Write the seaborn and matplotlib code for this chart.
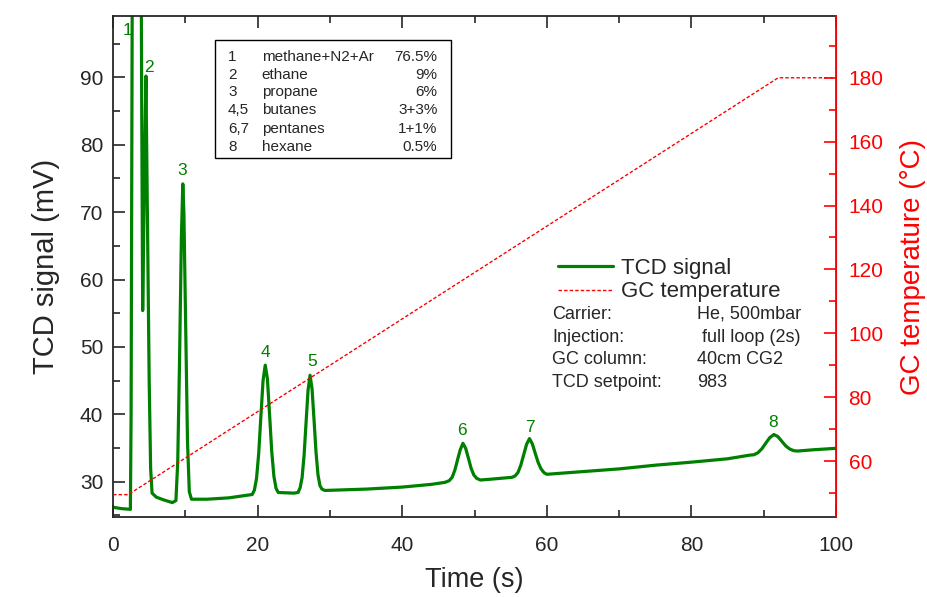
import matplotlib
matplotlib.use('Agg')
import matplotlib.pyplot as plt
import matplotlib.patches as patches
from matplotlib.ticker import MultipleLocator
import seaborn as sns

sns.set_style('ticks')
plt.rcParams['font.family'] = ['Liberation Sans', 'DejaVu Sans']

# TCD signal (time in s, signal in mV)
time_s = [0, 1.2, 2.4, 2.5, 2.6, 2.7, 3.85, 3.95, 4.1, 4.3, 4.55, 4.75, 5.0, 5.2, 5.4,
          6.0, 7.0, 8.2, 8.7, 8.95, 9.2, 9.45, 9.65, 9.8, 10.05, 10.3, 10.55, 10.85,
          13, 16, 19.25, 19.55, 19.85, 20.15, 20.45, 20.75, 21.05, 21.35, 21.65, 21.95,
          22.25, 22.55, 22.85, 25.0, 25.6, 25.875, 26.15, 26.425, 26.7, 26.975, 27.25,
          27.525, 27.8, 28.075, 28.35, 28.625, 28.9, 29.3, 35, 40, 44, 45.9, 46.5, 46.9,
          47.275, 47.65, 48.025, 48.4, 48.775, 49.15, 49.525, 49.9, 50.3, 50.8, 52, 55.2,
          55.6, 56.0, 56.4, 56.8, 57.2, 57.6, 58.0, 58.4, 58.8, 59.2, 59.6, 60.0, 65, 70,
          75, 80, 85, 88.1, 88.65, 89.2, 89.75, 90.3, 90.85, 91.4, 91.95, 92.5, 93.05,
          93.6, 94.15, 94.7, 97, 100]
tcd_mv = [26.2, 26.0, 25.9, 40, 80, 120, 120, 90, 55.4, 72, 90.2, 70, 45, 32, 28.3,
          27.7, 27.3, 26.9, 27.2, 33, 48, 66, 74.2, 70, 53, 36, 28.5, 27.4,
          27.4, 27.6, 28.1, 28.75, 30.5, 34.2, 39.7, 45.0, 47.3, 45.3, 40.0, 34.5,
          30.8, 29.0, 28.4, 28.3, 28.4, 29.1, 30.6, 33.9, 38.8, 43.6, 45.8,
          43.8, 39.2, 34.4, 31.0, 29.4, 28.9, 28.7, 28.9, 29.2, 29.6, 29.9, 30.15, 30.65,
          31.7, 33.25, 34.75, 35.7, 34.95, 33.5, 32.0, 31.0, 30.5, 30.25, 30.35, 30.65,
          30.85, 31.35, 32.45, 34.0, 35.55, 36.4, 35.6, 34.2, 32.85, 31.9, 31.35, 31.1, 31.5, 31.9,
          32.45, 32.9, 33.4, 33.95, 34.0, 34.3, 34.9, 35.75, 36.55, 37.0, 36.7, 36.0, 35.3,
          34.85, 34.6, 34.55, 34.75, 34.95]

# GC oven temperature program
temp_time = [0, 2.1, 92, 100]
temp_c = [49.5, 49.5, 180, 180]

peak_ids = ['1', '2', '3', '4', '5', '6', '7', '8']
label_x = [2.0, 4.9, 9.6, 21.1, 27.5, 48.3, 57.7, 91.3]
label_y = [96.9, 91.4, 76.2, 49.2, 47.9, 37.6, 38.1, 38.8]

comp_no = ['1', '2', '3', '4,5', '6,7', '8']
comp_name = ['methane+N2+Ar', 'ethane', 'propane', 'butanes', 'pentanes', 'hexane']
comp_pct = ['76.5%', '9%', '6%', '3+3%', '1+1%', '0.5%']

info_keys = ['Carrier:', 'Injection:', 'GC column:', 'TCD setpoint:']
info_vals = ['He, 500mbar', ' full loop (2s)', '40cm CG2', '983']

green = '#008000'
red = '#ff0000'

fig, ax = plt.subplots(figsize=(9.28, 5.97), dpi=100)
fig.subplots_adjust(left=0.1218, right=0.9009, bottom=0.134, top=0.973)
ax2 = ax.twinx()

sns.lineplot(x=time_s, y=tcd_mv, ax=ax, color=green, lw=2.3, sort=False,
             estimator=None, label='TCD signal', legend=False)
sns.lineplot(x=temp_time, y=temp_c, ax=ax2, color=red, lw=1.0, ls=(0, (2.5, 1.5)),
             sort=False, estimator=None, label='GC temperature', legend=False)

ax.set_xlim(0, 100)
ax.set_ylim(24.76, 99.1)
ax2.set_ylim(42.5, 199.3)

ax.xaxis.set_major_locator(MultipleLocator(20))
ax.xaxis.set_minor_locator(MultipleLocator(10))
ax.yaxis.set_major_locator(MultipleLocator(10))
ax.yaxis.set_minor_locator(MultipleLocator(5))
ax2.yaxis.set_major_locator(MultipleLocator(20))
ax2.yaxis.set_minor_locator(MultipleLocator(10))

ax.tick_params(which='both', direction='in', top=True, right=False, width=1.2, labelsize=15)
ax.tick_params(which='major', length=8.5)
ax.tick_params(which='minor', length=5)
ax.tick_params(axis='x', pad=14)
ax.tick_params(axis='y', pad=7)
ax2.tick_params(which='both', direction='in', colors=red, width=1.2, labelsize=15, pad=9)
ax2.tick_params(which='major', length=8.5)
ax2.tick_params(which='minor', length=5)

for s in ['left', 'bottom', 'top']:
    ax.spines[s].set_linewidth(1.3)
ax2.spines['right'].set_color(red)
ax2.spines['right'].set_linewidth(1.3)
for s in ['left', 'bottom', 'top']:
    ax2.spines[s].set_visible(False)

ax.set_xlabel('Time (s)', fontsize=19.5, labelpad=8)
ax.set_ylabel('TCD signal (mV)', fontsize=21, labelpad=14)
ax2.set_ylabel('GC temperature (°C)', fontsize=20, color=red, labelpad=12)

# peak numbers
for pid, px, py in zip(peak_ids, label_x, label_y):
    ax.text(px, py, pid, color=green, fontsize=12.5, ha='center', va='center')

# composition table
ax.add_patch(patches.Rectangle((0.141, 0.717), 0.327, 0.235, transform=ax.transAxes,
                               fill=False, edgecolor='black', lw=1.0))
rows_y = [0.919, 0.883, 0.848, 0.812, 0.775, 0.739]
for n, name, pct, ry in zip(comp_no, comp_name, comp_pct, rows_y):
    ax.text(0.159, ry, n, transform=ax.transAxes, fontsize=11, va='center')
    ax.text(0.2057, ry, name, transform=ax.transAxes, fontsize=11, va='center')
    ax.text(0.4486, ry, pct, transform=ax.transAxes, fontsize=11, va='center', ha='right')

# legend
h1, l1 = ax.get_legend_handles_labels()
h2, l2 = ax2.get_legend_handles_labels()
ax2.legend(h1 + h2, l1 + l2, loc='upper left', bbox_to_anchor=(0.6, 0.54), frameon=False,
           borderpad=0, handlelength=2.5, handletextpad=0.35, labelspacing=0.12, fontsize=16)

# run conditions
info_y = [0.405, 0.359, 0.315, 0.269]
for k, v, iy in zip(info_keys, info_vals, info_y):
    ax.text(0.607, iy, k, transform=ax.transAxes, fontsize=13, va='center')
    ax.text(0.808, iy, v, transform=ax.transAxes, fontsize=13, va='center')

plt.savefig('out.png', dpi=100)
